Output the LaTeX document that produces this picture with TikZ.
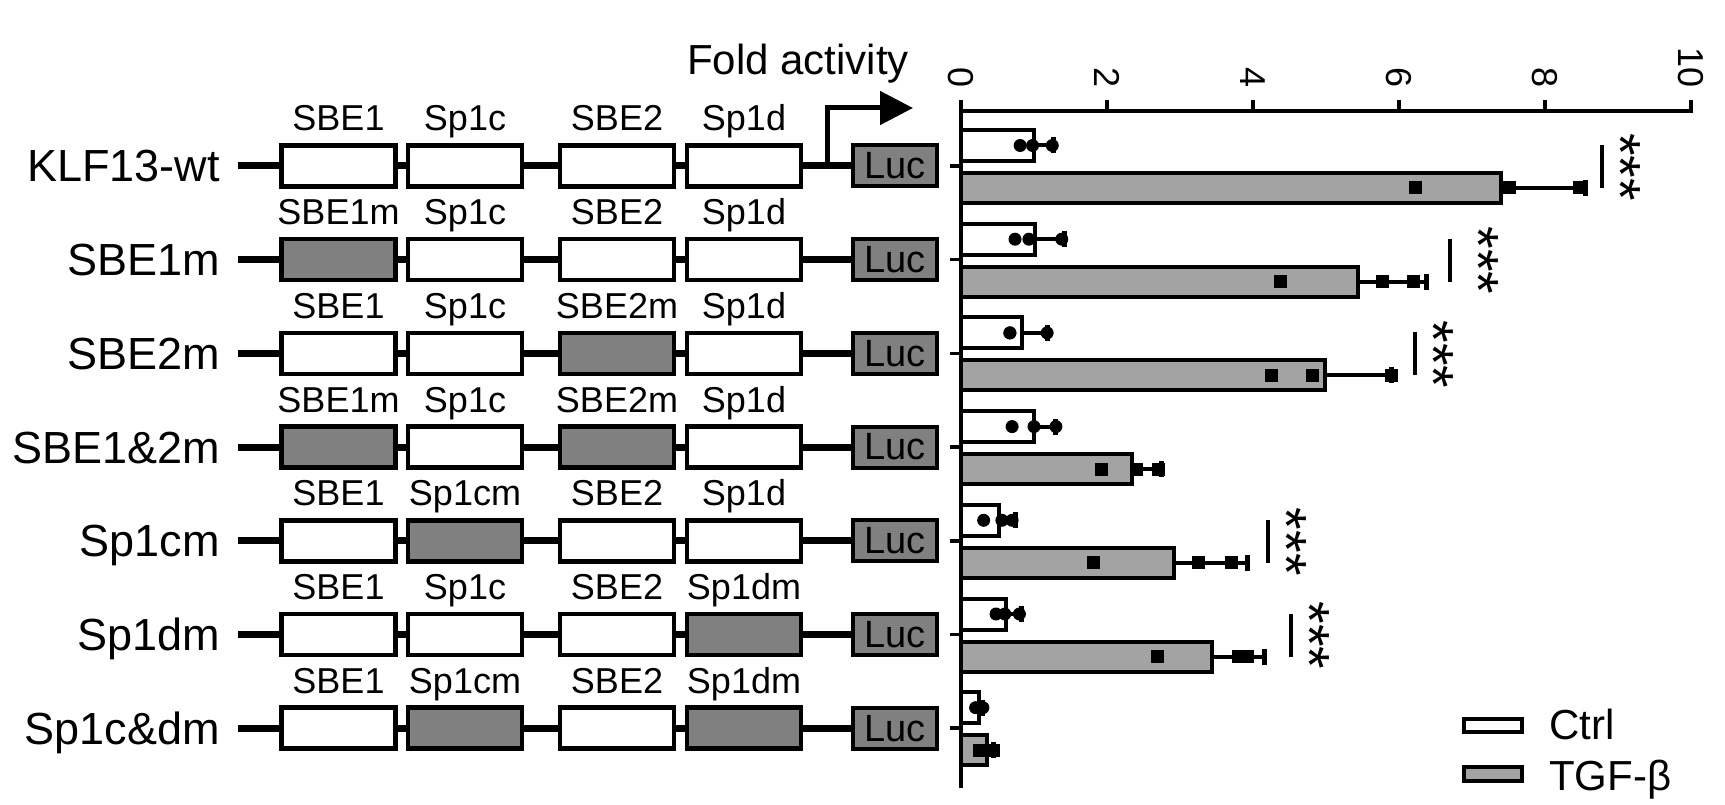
\documentclass[tikz,border=0pt]{standalone}
\usepackage{fontspec}
\setmainfont{Liberation Sans}
\usetikzlibrary{arrows.meta,backgrounds}
\definecolor{mutgray}{RGB}{128,128,128}
\definecolor{bargray}{RGB}{163,163,163}
\begin{document}
\begin{tikzpicture}[x=1pt,y=-1pt,
  sitebox/.style={draw=black,line width=4.5pt,minimum width=114pt,minimum height=41pt,inner sep=0pt,fill=white},
  lucbox/.style={draw=black,line width=4pt,fill=mutgray,minimum width=84pt,minimum height=41pt,inner sep=0pt,font=\fontsize{38}{38}\selectfont},
  sitelabel/.style={font=\fontsize{36}{36}\selectfont,inner sep=0pt,anchor=base},
  rowlabel/.style={font=\fontsize{45}{45}\selectfont,inner sep=0pt,anchor=base east},
  dnaline/.style={line width=7pt},
  promarrow/.style={line width=5pt,-{Triangle[length=33pt,width=33pt]}},
  axisline/.style={line width=3.5pt},
  ticklabel/.style={font=\fontsize{36}{36}\selectfont,inner sep=0pt,rotate=-90,anchor=east},
  ctrlbar/.style={draw=black,line width=4pt,fill=white},
  tgfbar/.style={draw=black,line width=4pt,fill=bargray},
  errbar/.style={line width=4pt},
  errcap/.style={line width=5pt},
  sigline/.style={line width=3.5pt},
  stars/.style={font=\fontsize{58}{58}\selectfont,inner sep=0pt,rotate=-90,anchor=base},
  legtext/.style={font=\fontsize{42}{42}\selectfont,inner sep=0pt,anchor=base west}
]
\useasboundingbox (0,0) rectangle (1725,805);

% ---------- constructs ----------
\foreach \i/\la/\lb/\lc/\ld/\fa/\fb/\fc/\fd/\nm in {
  1/SBE1/Sp1c/SBE2/Sp1d/white/white/white/white/KLF13-wt,
  2/SBE1m/Sp1c/SBE2/Sp1d/mutgray/white/white/white/SBE1m,
  3/SBE1/Sp1c/SBE2m/Sp1d/white/white/mutgray/white/SBE2m,
  4/SBE1m/Sp1c/SBE2m/Sp1d/mutgray/white/mutgray/white/SBE1\&2m,
  5/SBE1/Sp1cm/SBE2/Sp1d/white/mutgray/white/white/Sp1cm,
  6/SBE1/Sp1c/SBE2/Sp1dm/white/white/white/mutgray/Sp1dm,
  7/SBE1/Sp1cm/SBE2/Sp1dm/white/mutgray/white/mutgray/Sp1c\&dm}
{
  \pgfmathsetmacro\y{166+93.7*(\i-1)}
  \node[rowlabel] (lab\i) at (220,{\y+16}) {\nm};
  \coordinate (st\i) at (238,\y);
  \node[sitebox,fill=\fa] (a\i) at (338.5,\y) {};
  \node[sitebox,fill=\fb] (b\i) at (465,\y) {};
  \node[sitebox,fill=\fc] (c\i) at (617,\y) {};
  \node[sitebox,fill=\fd] (d\i) at (744,\y) {};
  \node[lucbox] (luc\i) at (895,\y) {Luc};
  \node[sitelabel] (la\i) at (338.5,{\y-35}) {\la};
  \node[sitelabel] (lb\i) at (465,{\y-35}) {\lb};
  \node[sitelabel] (lc\i) at (617,{\y-35}) {\lc};
  \node[sitelabel] (ld\i) at (744,{\y-35}) {\ld};
  \begin{scope}[on background layer]
    \draw[dnaline] (st\i) -- (luc\i.west);
  \end{scope}
}

% promoter arrow
\coordinate (tss) at (827,166);
\coordinate (tip) at (913,108);
\draw[promarrow] (tss) |- (tip);
\node[font=\fontsize{42}{42}\selectfont,inner sep=0pt,anchor=base west] (fold) at (687,75) {Fold activity};

% ---------- axes ----------
\draw[axisline] (961,788) -- (961,100);
\draw[axisline] (961,111) -- (1691,111) -- (1691,100);
\foreach \v in {2,4,6,8} \draw[axisline] ({961+73*\v},111) -- ({961+73*\v},100);
\foreach \v in {0,2,4,6,8,10} \node[ticklabel] (t\v) at ({961+73*\v},88) {\v};

% ---------- bars ----------
\foreach \i/\cm/\ca/\cb/\cc/\ce/\tm/\ta/\tb/\tc/\te in {
 1/1.00/0.81/0.98/1.25/1.27/7.40/6.22/7.51/8.47/8.55,
 2/1.01/0.74/0.93/1.38/1.42/5.44/4.38/5.77/6.20/6.38,
 3/0.84/0.67/0.67/1.18/1.18/4.99/4.26/4.81/5.90/5.90,
 4/1.00/0.70/1.00/1.30/1.30/2.34/1.92/2.40/2.70/2.75,
 5/0.52/0.31/0.56/0.70/0.74/2.92/1.82/3.25/3.71/3.92,
 6/0.62/0.48/0.60/0.80/0.83/3.44/2.69/3.80/3.92/4.16,
 7/0.25/0.20/0.25/0.30/0.30/0.36/0.26/0.35/0.45/0.45}
{
  \pgfmathsetmacro\y{166+93.7*(\i-1)}
  \pgfmathsetmacro\yc{\y-20.5}
  \pgfmathsetmacro\yt{\y+22}
  \draw[axisline] (950,\y) -- (961,\y);
  \draw[ctrlbar] (961,{\y-36}) rectangle ({961+73*\cm},{\y-5});
  \draw[tgfbar] (961,{\y+7}) rectangle ({961+73*\tm},{\y+37});
  \draw[errbar] ({961+73*\cm},\yc) -- ({961+73*\ce},\yc);
  \draw[errcap] ({961+73*\ce},{\yc-8}) -- ({961+73*\ce},{\yc+8});
  \draw[errbar] ({961+73*\tm},\yt) -- ({961+73*\te},\yt);
  \draw[errcap] ({961+73*\te},{\yt-8}) -- ({961+73*\te},{\yt+8});
  \foreach \p in {\ca,\cb,\cc} \fill ({961+73*\p},\yc) circle[radius=6.5pt];
  \foreach \p in {\ta,\tb,\tc} \fill ({961+73*\p-6.5},{\yt-6.5}) rectangle ({961+73*\p+6.5},{\yt+6.5});
}

% ---------- significance ----------
\foreach \i/\xl/\xs in {1/1602/1633, 2/1450/1491, 3/1415/1446, 5/1268/1299, 6/1291/1322}
{
  \pgfmathsetmacro\y{166+93.7*(\i-1)}
  \draw[sigline] (\xl,{\y-21}) -- (\xl,{\y+22});
  \node[stars] (s\i) at ({\xs-33},{\y+1}) {***};
}

% ---------- legend ----------
\draw[ctrlbar] (1464,719) rectangle (1522,732);
\draw[tgfbar] (1464,767) rectangle (1522,781);
\node[legtext] (lctrl) at (1549,739) {Ctrl};
\node[legtext] (ltgf) at (1549,790) {TGF-β};
\end{tikzpicture}
\end{document}
